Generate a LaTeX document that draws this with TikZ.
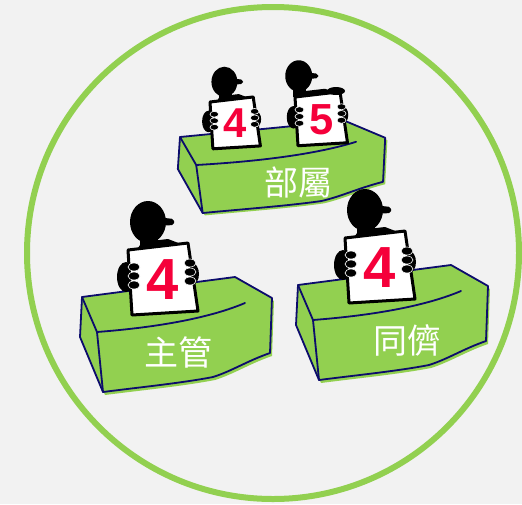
\documentclass[tikz,border=0pt]{standalone}
\usepackage{fontspec}
\newfontfamily\cjk{Noto Sans CJK TC}
\newfontfamily\digitfont{Liberation Sans}

\definecolor{paper}{HTML}{F2F2F2}
\definecolor{ringgreen}{HTML}{92D050}
\definecolor{deskgreen}{HTML}{92D050}
\definecolor{deskblue}{HTML}{0C0C6C}
\definecolor{cardred}{HTML}{F5003A}

% outline of one desk, back left top corner at the origin
\newcommand\deskoutline{(0,0) -- (153,-20) -- (190,1) -- (188,56)
  .. controls (165,64) and (150,74) .. (131,80)
  .. controls (100,86) and (60,90) .. (21,95) -- (-2,40) -- cycle}

\tikzset{
  deskedge/.style={draw=deskblue, line width=1.8pt, line join=round, line cap=round},
  desklabel/.style={text=white, font=\cjk\fontsize{34pt}{34pt}\selectfont, inner sep=0pt},
  pics/desk/.style={code={
    \begin{scope}[shift={(2,3)}]
      \fill[deskgreen] \deskoutline;
    \end{scope}
    \filldraw[fill=deskgreen, deskedge] \deskoutline;
    \draw[deskedge] (0,0) -- (15,35) -- (21,95);
    \draw[deskedge] (15,35) .. controls (80,30) and (130,20) .. (163,6);
  }},
  % #1 = score on the card, #2 = sideways shift of the head
  pics/judge/.style 2 args={code={
    \begin{scope}[shift={(#2,0)}]
      \fill[black] (20,-28) ellipse [x radius=18, y radius=21];
      \fill[black, rounded corners=2pt] (28,-33) -- (46,-31) -- (46,-25) -- (28,-24) -- cycle;
      \fill[black] (12,-12) rectangle (30,0);
    \end{scope}
    \fill[black] (8,1) -- (14,-8) -- (40,-11) -- (53,-6) -- cycle;
    \fill[black] (-2,27) ellipse [x radius=9, y radius=15];
    \fill[black] (64,24) ellipse [x radius=7, y radius=11];
    \filldraw[fill=white, draw=black, line width=3pt, line join=round]
      (0,0) -- (60,-7) -- (70,61) -- (4,65) -- cycle;
    \node[text=cardred, font=\digitfont\bfseries\fontsize{58pt}{58pt}\selectfont,
      inner sep=0pt, transform shape] at (35,30) {#1};
    \foreach \fy in {17,26,35}
      \filldraw[fill=black, draw=white, line width=0.6pt] (6,\fy) ellipse [x radius=6, y radius=4];
    \foreach \fy in {13,22,31}
      \filldraw[fill=black, draw=white, line width=0.6pt] (62,\fy) ellipse [x radius=6, y radius=4];
  }}
}

\begin{document}
\begin{tikzpicture}[x=1pt, y=-1pt]
\useasboundingbox (0,0) rectangle (522,504);
\fill[paper] (0,0) rectangle (522,504);
\draw[ringgreen, line width=6pt] (273,253) circle [radius=246];

% subordinates
\pic (deskSub) [xscale=1.08, yscale=0.8] at (180,137) {desk};
\pic (judgeSubA) [scale=0.72] at (210,102) {judge={4}{0}};
\pic (judgeSubB) [scale=0.75] at (295,97) {judge={5}{-15}};
\fill[black] (336,91) ellipse [x radius=9, y radius=4];
\node[desklabel] (lblSub) at (298,182) {部屬};

% supervisor
\pic (deskBoss) at (82,297) {desk};
\pic (judgeBoss) at (128,250) {judge={4}{0}};
\node[desklabel] (lblBoss) at (178,352) {主管};

% peers
\pic (deskPeer) at (298,285) {desk};
\pic (judgePeer) at (345,238) {judge={4}{0}};
\node[desklabel] (lblPeer) at (407,340) {同儕};
\end{tikzpicture}
\end{document}
